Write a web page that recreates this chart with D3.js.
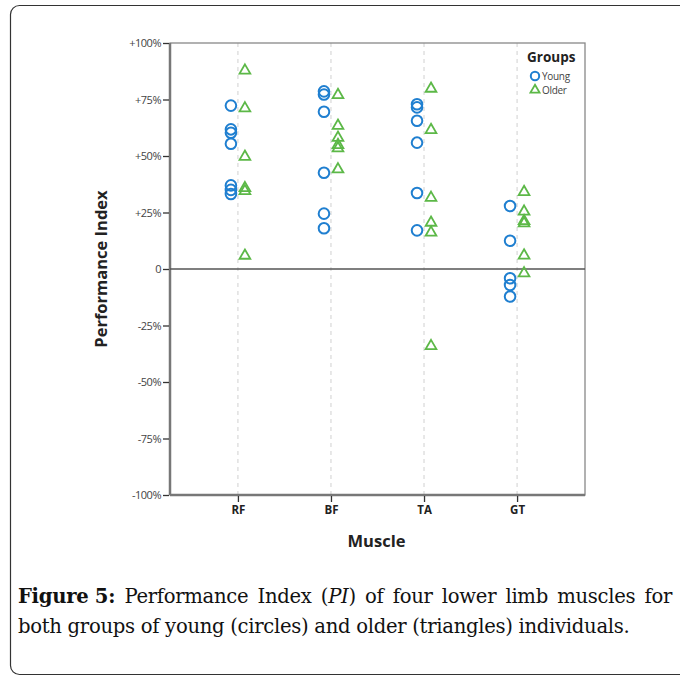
<!DOCTYPE html>
<html><head><meta charset="utf-8">
<script src="https://cdn.jsdelivr.net/npm/d3@7"></script>
<style>html,body{margin:0;padding:0;background:#fff;}svg{display:block;}</style>
</head><body>
<script>
const categories = ["RF","BF","TA","GT"];
const youngRF = [72.3, 61.8, 60.3, 55.4, 37.0, 35.0, 33.2];
const youngBF = [78.6, 77.2, 69.6, 42.6, 24.5, 18.0];
const youngTA = [72.9, 71.5, 65.6, 55.9, 33.6, 17.1];
const youngGT = [27.9, 12.5, -4.1, -7.1, -12.2];
const olderRF = [87.8, 71.1, 49.7, 35.8, 34.5, 5.9];
const olderBF = [77.0, 63.4, 58.1, 54.9, 53.4, 44.1];
const olderTA = [79.8, 61.5, 31.5, 20.5, 16.1, -34.1];
const olderGT = [34.1, 25.4, 21.2, 20.2, 6.0, -1.9];
const yTicks = [100, 75, 50, 25, 0, -25, -50, -75, -100];
const yTickLabels = ["+100%","+75%","+50%","+25%","0","-25%","-50%","-75%","-100%"];
const groups = ["Young","Older"];

const youngData = [youngRF, youngBF, youngTA, youngGT];
const olderData = [olderRF, olderBF, olderTA, olderGT];

const W = 680, H = 677;
const svg = d3.select("body").append("svg").attr("width", W).attr("height", H);

// frame
svg.append("rect").attr("x", 10.5).attr("y", 5.5).attr("width", 700).attr("height", 669)
  .attr("rx", 9).attr("fill", "none").attr("stroke", "#333").attr("stroke-width", 1.2);

// watermark arc
svg.append("path")
  .attr("d", d3.arc()({innerRadius: 88, outerRadius: 100, startAngle: Math.PI*0.62, endAngle: Math.PI*1.05}))
  .attr("transform", "translate(700,600)")
  .attr("fill", "#ececec");

const L = 170, R = 585, T = 43, B = 495;
const x = d3.scalePoint().domain(categories).range([L, R]).padding(0.73);
const y = d3.scaleLinear().domain([-100, 100]).range([B, T]);

const g = svg.append("g");

// dashed vertical gridlines
g.selectAll(".grid").data(categories).join("line")
  .attr("x1", d => x(d)).attr("x2", d => x(d)).attr("y1", T).attr("y2", B)
  .attr("stroke", "#d0d0d0").attr("stroke-dasharray", "4,4").attr("stroke-width", 1);

// plot border
g.append("rect").attr("x", L).attr("y", T).attr("width", R - L).attr("height", B - T)
  .attr("fill", "none").attr("stroke", "#888").attr("stroke-width", 1.3);
g.append("line").attr("x1", L).attr("x2", L).attr("y1", T).attr("y2", B).attr("stroke", "#777").attr("stroke-width", 2.5);
g.append("line").attr("x1", L).attr("x2", R).attr("y1", B).attr("y2", B).attr("stroke", "#777").attr("stroke-width", 2.5);

// zero line
g.append("line").attr("x1", L).attr("x2", R).attr("y1", y(0)).attr("y2", y(0))
  .attr("stroke", "#555").attr("stroke-width", 1.3);

// y axis
const yAxis = d3.axisLeft(y).tickValues(yTicks).tickSize(6).tickPadding(2)
  .tickFormat((d, i) => yTickLabels[i]);
const ya = svg.append("g").attr("transform", `translate(${L - 1},0)`).call(yAxis);
ya.select(".domain").remove();
ya.selectAll(".tick line").attr("stroke", "#333").attr("stroke-width", 1.3);
ya.selectAll(".tick text").attr("font-family", "Open Sans, sans-serif").attr("font-size", 11)
  .attr("fill", "#444").attr("letter-spacing", "-0.5");

// x axis
const xAxis = d3.axisBottom(x).tickSize(6).tickPadding(4);
const xa = svg.append("g").attr("transform", `translate(0,${B + 1})`).call(xAxis);
xa.select(".domain").remove();
xa.selectAll(".tick line").attr("stroke", "#333").attr("stroke-width", 1.3);
xa.selectAll(".tick text").attr("font-family", "Open Sans, sans-serif").attr("font-size", 11.5)
  .attr("font-weight", "bold").attr("fill", "#222");

// axis titles
svg.append("text").attr("x", (L + R) / 2 - 1).attr("y", 547).attr("text-anchor", "middle")
  .attr("font-family", "Open Sans, sans-serif").attr("font-weight", "bold").attr("font-size", 16.5)
  .attr("fill", "#222").text("Muscle");
svg.append("text").attr("transform", `translate(107,${y(0)}) rotate(-90)`).attr("text-anchor", "middle")
  .attr("font-family", "Open Sans, sans-serif").attr("font-weight", "bold").attr("font-size", 16.5)
  .attr("fill", "#222").text("Performance Index");

const blue = "#1f7fd0", green = "#5cb847";
const tri = d3.symbol().type(d3.symbolTriangle).size(50);

// points
categories.forEach((c, i) => {
  g.selectAll(null).data(youngData[i]).join("circle")
    .attr("cx", x(c) - 7).attr("cy", d => y(d)).attr("r", 5.3)
    .attr("fill", "none").attr("stroke", blue).attr("stroke-width", 2);
  g.selectAll(null).data(olderData[i]).join("path")
    .attr("d", tri).attr("transform", d => `translate(${x(c) + 7},${y(d)})`)
    .attr("fill", "none").attr("stroke", green).attr("stroke-width", 1.8);
});

// legend
const lg = svg.append("g");
lg.append("text").attr("x", 527).attr("y", 62).attr("font-family", "Open Sans, sans-serif")
  .attr("font-weight", "bold").attr("font-size", 13.5).attr("fill", "#222").text("Groups");
groups.forEach((name, i) => {
  const yy = 76 + i * 14;
  if (i === 0) {
    lg.append("circle").attr("cx", 535).attr("cy", yy).attr("r", 4.2)
      .attr("fill", "none").attr("stroke", blue).attr("stroke-width", 2);
  } else {
    lg.append("path").attr("d", d3.symbol().type(d3.symbolTriangle).size(36)())
      .attr("transform", `translate(535,${yy})`).attr("fill", "none").attr("stroke", green).attr("stroke-width", 1.8);
  }
  lg.append("text").attr("x", 542).attr("y", yy + 3.5).attr("font-family", "Open Sans, sans-serif")
    .attr("font-size", 10).attr("fill", "#444").attr("letter-spacing", "-0.3").text(name);
});

// caption
const capFont = "DejaVu Serif, serif";
const cap = svg.append("g");
const x0 = 18, x1 = 672;
const line2 = cap.append("text").attr("x", x0).attr("y", 633).attr("font-family", capFont).attr("font-size", 18)
  .attr("fill", "#111").attr("letter-spacing", "-0.3").text("both groups of young (circles) and older (triangles) individuals.");
const w2 = line2.node().getComputedTextLength();
const capSize = Math.min(20, 18 * 610 / w2);
line2.attr("font-size", capSize);

const line1 = [["Figure 5:", "bold"], ["Performance"], ["Index"], ["(PI)"], ["of"], ["four"], ["lower"],
  ["limb"], ["muscles"], ["for"]];
const words = line1.map(w => {
  const t = cap.append("text").attr("y", 603).attr("font-family", capFont).attr("font-size", capSize)
    .attr("fill", "#111").attr("letter-spacing", "-0.3");
  if (w[0] === "(PI)") {
    t.append("tspan").text("(");
    t.append("tspan").attr("font-style", "italic").text("PI");
    t.append("tspan").text(")");
  } else {
    t.attr("font-weight", w[1] || "normal").text(w[0]);
  }
  return t;
});
const widths = words.map(t => t.node().getComputedTextLength());
const total = d3.sum(widths);
const gap = (x1 - x0 - total) / (words.length - 1);
let cx = x0;
words.forEach((t, i) => { t.attr("x", cx); cx += widths[i] + gap; });
</script>
</body></html>
